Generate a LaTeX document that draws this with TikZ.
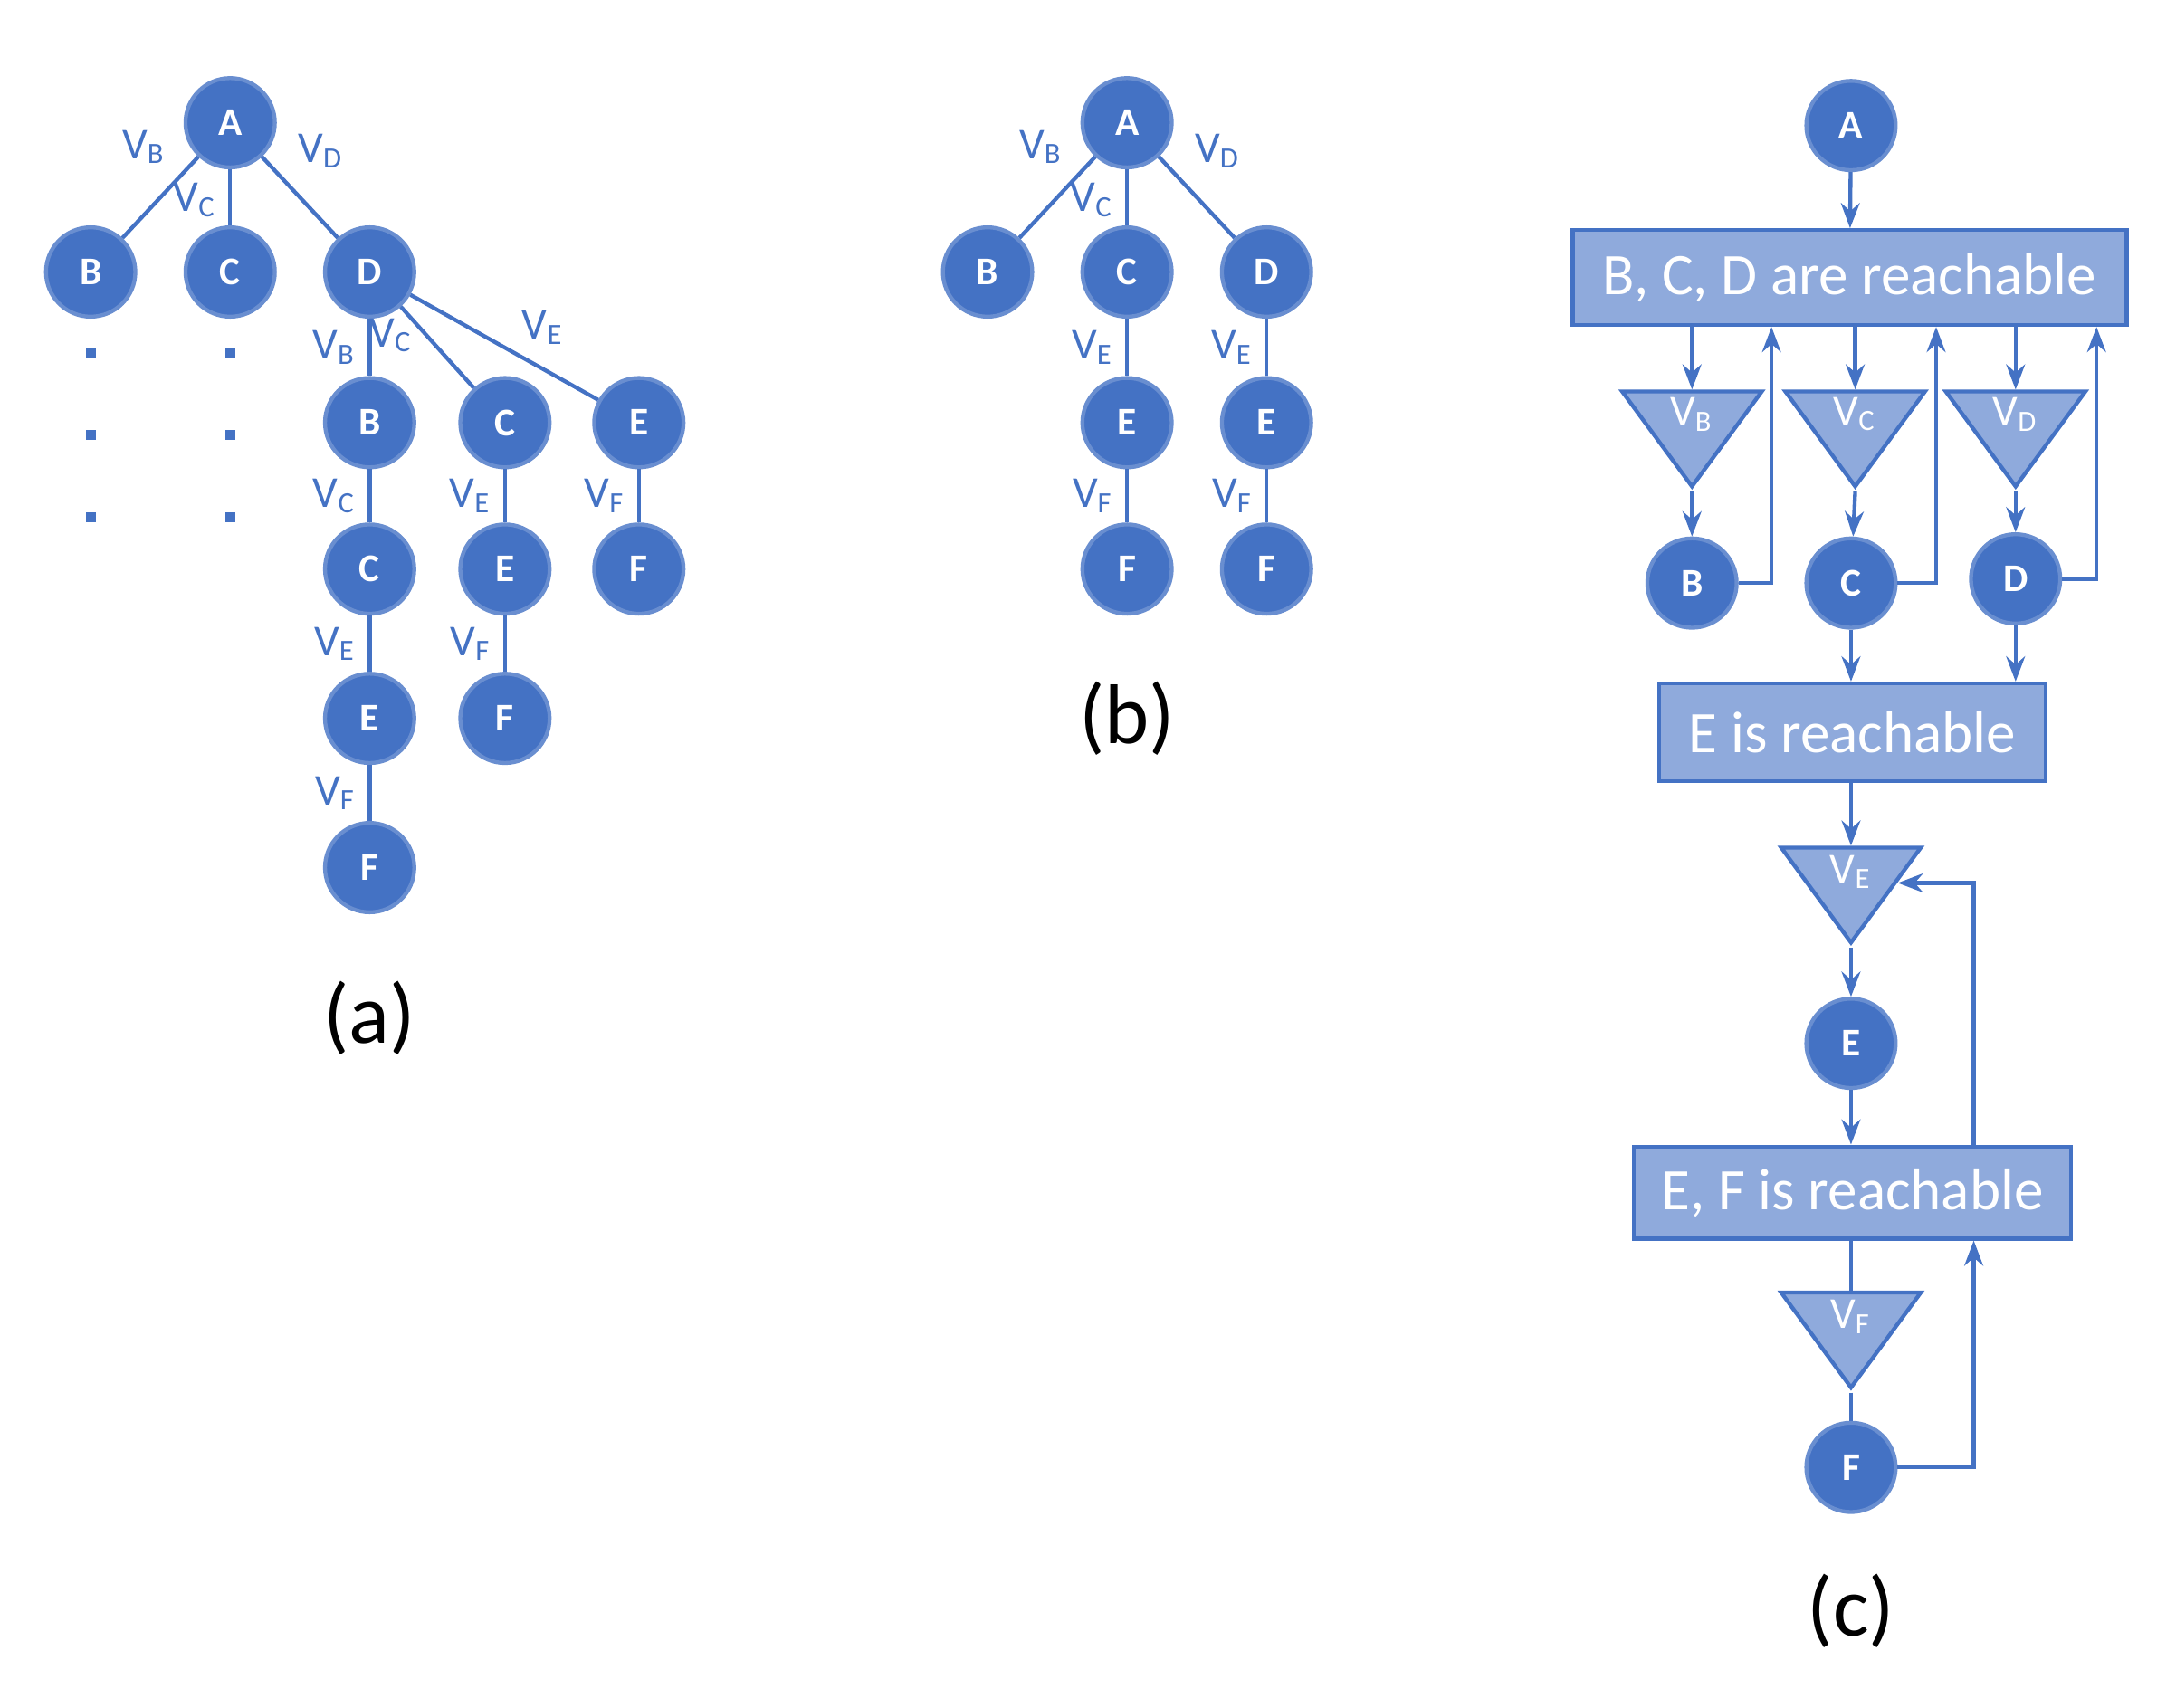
\documentclass[tikz,border=0pt]{standalone}
\usepackage{fontspec}
\setmainfont{Carlito}
\usetikzlibrary{shapes.geometric,arrows.meta}
\definecolor{nodeblue}{HTML}{4472C4}
\definecolor{boxblue}{HTML}{8FAADC}
\begin{document}
\begin{tikzpicture}[x=0.01cm,y=-0.01cm]

		\tikzstyle{vertex} = [circle, fill=nodeblue, draw=nodeblue!80!white, thick, minimum size=0.64cm, inner sep=0, text=white, font=\footnotesize\bfseries]
		
		\tikzstyle{reach} = [rectangle, fill=boxblue, draw=nodeblue, thick, text=white, font=\large, inner sep=0]
		
		\tikzstyle{check} = [isosceles triangle, shape border rotate=270, isosceles triangle stretches, fill=boxblue, draw=nodeblue, thick, minimum width=1cm, minimum height=0.68cm, inner sep=0]
		
		\tikzstyle{edges} = [nodeblue, thick]
		
		\tikzstyle{links} = [-{Stealth[length=1.8mm]}, nodeblue, thick]
		
		\tikzstyle{vlabel} = [text=nodeblue, font=\small]
		
		\tikzstyle{dots} = [rectangle, fill=nodeblue, inner sep=0, minimum size=0.7mm]
		
		\useasboundingbox (0,0) rectangle (1560,1224);
		
		% (a)
		\node[vertex] at (165,88) (aA) {A};
		\node[vertex] at (65,195) (aB) {B};
		\node[vertex] at (165,195) (aC) {C};
		\node[vertex] at (265,195) (aD) {D};
		\node[vertex] at (265,303) (aDB) {B};
		\node[vertex] at (362,303) (aDC) {C};
		\node[vertex] at (458,303) (aDE) {E};
		\node[vertex] at (265,408) (aDBC) {C};
		\node[vertex] at (265,515) (aDBCE) {E};
		\node[vertex] at (265,622) (aDBCEF) {F};
		\node[vertex] at (362,408) (aDCE) {E};
		\node[vertex] at (362,515) (aDCEF) {F};
		\node[vertex] at (458,408) (aDEF) {F};
		
		\foreach \x in {65,165}
			\foreach \y in {253,312,371}
				\node[dots] at (\x,\y) {};
		
		\draw[edges] (aA) -- node[vlabel, pos=0.25, above left=-1pt] {V\textsubscript{B}} (aB);
		\draw[edges] (aA) -- node[vlabel, pos=0.55, left=-1pt] {V\textsubscript{C}} (aC);
		\draw[edges] (aA) -- node[vlabel, pos=0.3, above right=-1pt] {V\textsubscript{D}} (aD);
		\draw[edges] (aD) -- node[vlabel, pos=0.5, left=-1pt] {V\textsubscript{B}} (aDB);
		\draw[edges] (aD) -- node[vlabel, pos=0.35, left=-1pt] {V\textsubscript{C}} (aDC);
		\draw[edges] (aD) -- node[vlabel, pos=0.55, above right=-2pt] {V\textsubscript{E}} (aDE);
		\draw[edges] (aDB) -- node[vlabel, left=-1pt] {V\textsubscript{C}} (aDBC);
		\draw[edges] (aDBC) -- node[vlabel, left=-1pt] {V\textsubscript{E}} (aDBCE);
		\draw[edges] (aDBCE) -- node[vlabel, left=-1pt] {V\textsubscript{F}} (aDBCEF);
		\draw[edges] (aDC) -- node[vlabel, left=-1pt] {V\textsubscript{E}} (aDCE);
		\draw[edges] (aDCE) -- node[vlabel, left=-1pt] {V\textsubscript{F}} (aDCEF);
		\draw[edges] (aDE) -- node[vlabel, left=-1pt] {V\textsubscript{F}} (aDEF);
		
		\node[font=\LARGE] at (265,730) (capa) {(a)};
		
		% (b)
		\node[vertex] at (808,88) (bA) {A};
		\node[vertex] at (708,195) (bB) {B};
		\node[vertex] at (808,195) (bC) {C};
		\node[vertex] at (908,195) (bD) {D};
		\node[vertex] at (808,303) (bCE) {E};
		\node[vertex] at (908,303) (bDE) {E};
		\node[vertex] at (808,408) (bCEF) {F};
		\node[vertex] at (908,408) (bDEF) {F};
		
		\draw[edges] (bA) -- node[vlabel, pos=0.25, above left=-1pt] {V\textsubscript{B}} (bB);
		\draw[edges] (bA) -- node[vlabel, pos=0.55, left=-1pt] {V\textsubscript{C}} (bC);
		\draw[edges] (bA) -- node[vlabel, pos=0.3, above right=-1pt] {V\textsubscript{D}} (bD);
		\draw[edges] (bC) -- node[vlabel, left=-1pt] {V\textsubscript{E}} (bCE);
		\draw[edges] (bD) -- node[vlabel, left=-1pt] {V\textsubscript{E}} (bDE);
		\draw[edges] (bCE) -- node[vlabel, left=-1pt] {V\textsubscript{F}} (bCEF);
		\draw[edges] (bDE) -- node[vlabel, left=-1pt] {V\textsubscript{F}} (bDEF);
		
		\node[font=\LARGE] at (808,515) (capb) {(b)};
		
		% (c)
		\node[vertex] at (1327,90) (cA) {A};
		\node[reach, minimum width=3.97cm, minimum height=0.68cm] at (1326,199) (reach1) {B, C, D are reachable};
		\node[check] at (1213,306) (checkB) {};
		\node[check] at (1330,306) (checkC) {};
		\node[check] at (1445,306) (checkD) {};
		\node[text=white, font=\small] at (1213,297) {V\textsubscript{B}};
		\node[text=white, font=\small] at (1330,297) {V\textsubscript{C}};
		\node[text=white, font=\small] at (1445,297) {V\textsubscript{D}};
		\node[vertex] at (1213,418) (cB) {B};
		\node[vertex] at (1327,418) (cC) {C};
		\node[vertex] at (1445,415) (cD) {D};
		\node[reach, minimum width=2.77cm, minimum height=0.70cm] at (1328,525) (reach2) {E is reachable};
		\node[check] at (1327,633) (checkE) {};
		\node[text=white, font=\small] at (1327,625) {V\textsubscript{E}};
		\node[vertex] at (1327,748) (cE) {E};
		\node[reach, minimum width=3.13cm, minimum height=0.66cm] at (1328,855) (reach3) {E, F is reachable};
		\node[check] at (1327,952) (checkF) {};
		\node[text=white, font=\small] at (1327,944) {V\textsubscript{F}};
		\node[vertex] at (1327,1052) (cF) {F};
		
		\draw[links] (cA) -- (reach1);
		\draw[links] (reach1.south -| checkB) -- (checkB.north);
		\draw[links] (reach1.south -| checkC) -- (checkC.north);
		\draw[links] (reach1.south -| checkD) -- (checkD.north);
		\draw[links] (checkB.south) -- (cB);
		\draw[links] (checkC.south) -- (cC);
		\draw[links] (checkD.south) -- (cD);
		\draw[links] (cB.east) -| ([xshift=0.57cm]reach1.south -| checkB);
		\draw[links] (cC.east) -| ([xshift=0.58cm]reach1.south -| checkC);
		\draw[links] (cD.east) -| ([xshift=0.58cm]reach1.south -| checkD);
		\draw[links] (cC) -- (reach2.north -| cC);
		\draw[links] (cD) -- (reach2.north -| cD);
		\draw[links] (reach2.south -| cE) -- (checkE.north);
		\draw[links] (checkE.south) -- (cE);
		\draw[links] (cE) -- (reach3.north -| cE);
		\draw[links] (reach3.north -| 1415,0) |- (checkE.east);
		\draw[edges] (reach3.south -| cF) -- (checkF.north);
		\draw[edges] (checkF.south) -- (cF);
		\draw[links] (cF.east) -| (reach3.south -| 1415,0);
		
		\node[font=\LARGE] at (1327,1155) (capc) {(c)};
\end{tikzpicture}
\end{document}
